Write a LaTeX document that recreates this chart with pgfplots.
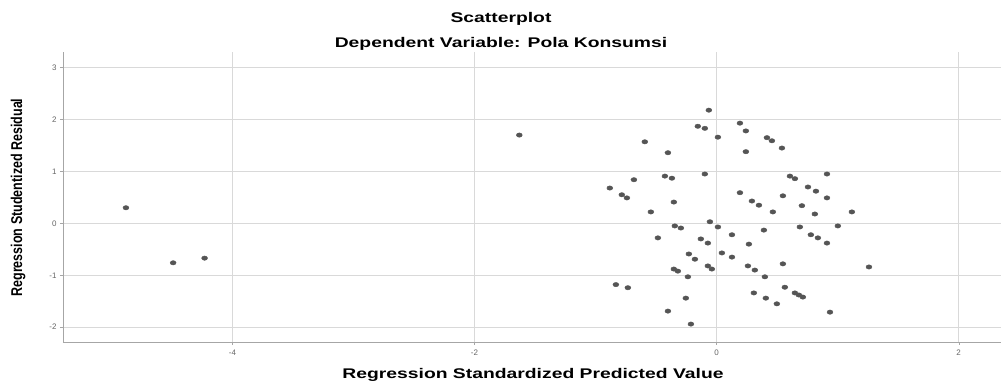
\documentclass[border=0pt]{standalone}
\usepackage{pgfplots}
\pgfplotsset{compat=1.18}
\usepackage{fontspec}
\setmainfont{Liberation Sans}
\usepackage{graphicx}
\definecolor{dot}{HTML}{555555}
\pgfplotstableread{
x y
-4.88 0.30
-4.49 -0.76
-4.23 -0.67
-1.63 1.70
-0.064 2.18
-0.155 1.87
-0.097 1.83
0.011 1.66
-0.593 1.57
-0.402 1.36
-0.097 0.95
-0.427 0.91
-0.369 0.87
-0.683 0.84
-0.882 0.68
-0.783 0.55
-0.741 0.49
-0.353 0.41
-0.543 0.22
0.193 1.93
0.242 1.78
0.416 1.65
0.457 1.59
0.540 1.45
0.242 1.38
0.606 0.91
0.647 0.86
0.912 0.95
0.755 0.70
0.821 0.62
0.548 0.53
0.193 0.59
0.292 0.43
0.350 0.35
0.912 0.49
0.705 0.34
0.465 0.22
0.812 0.18
1.118 0.22
-0.345 -0.05
-0.295 -0.09
-0.055 0.03
0.011 -0.07
-0.485 -0.28
-0.130 -0.30
-0.072 -0.38
0.044 -0.57
-0.229 -0.59
-0.179 -0.69
-0.072 -0.82
-0.039 -0.88
-0.353 -0.88
-0.320 -0.92
-0.237 -1.03
-0.832 -1.18
-0.733 -1.24
-0.254 -1.44
-0.402 -1.69
-0.212 -1.94
0.127 -0.22
0.391 -0.13
0.688 -0.07
1.002 -0.05
0.779 -0.22
0.837 -0.28
0.912 -0.38
0.267 -0.40
0.127 -0.65
0.259 -0.82
0.316 -0.90
0.548 -0.78
0.399 -1.03
1.259 -0.84
0.564 -1.23
0.647 -1.34
0.680 -1.38
0.713 -1.42
0.308 -1.34
0.407 -1.44
0.498 -1.55
0.937 -1.71
}\pts
\begin{document}
\begin{tikzpicture}
\path[use as bounding box] (0,0) rectangle (1001bp,381bp);
\begin{axis}[
 at={(63bp,39bp)}, anchor=south west, scale only axis,
 width=938bp, height=290bp,
 xmin=-5.40, xmax=2.35, ymin=-2.285, ymax=3.30,
 axis x line*=bottom, axis y line*=left,
 axis line style={draw=gray!70, line width=0.8bp, -},
 xtick={-4,-2,0,2}, ytick={-2,-1,0,1,2,3},
 grid=major, major grid style={draw=gray!30, line width=0.7bp},
 tick align=outside, major tick length=3bp, tick style={draw=gray!70},
 tick label style={font=\fontsize{8bp}{9bp}\selectfont, text=gray!80!black},
 /pgf/number format/assume math mode=true,
 xticklabel style={yshift=-1bp},
]
\addplot[only marks, mark=*, mark size=2.2bp, mark options={fill=dot, draw=dot, xscale=1.35}] table {\pts};
\end{axis}
\node[anchor=base] at (501bp,358bp) {\fontsize{14bp}{16bp}\selectfont\bfseries\scalebox{1.38}[1]{Scatterplot}};
\node[anchor=base] at (501bp,333bp) {\fontsize{14bp}{16bp}\selectfont\bfseries\scalebox{1.38}[1]{Dependent Variable: Pola Konsumsi}};
\node[anchor=base] at (533bp,3bp) {\fontsize{14bp}{16bp}\selectfont\bfseries\scalebox{1.38}[1]{Regression Standardized Predicted Value}};
\node[rotate=90] at (18bp,183.5bp) {\fontsize{12.5bp}{14bp}\selectfont\bfseries\scalebox{1}[1.25]{Regression Studentized Residual}};
\end{tikzpicture}
\end{document}
